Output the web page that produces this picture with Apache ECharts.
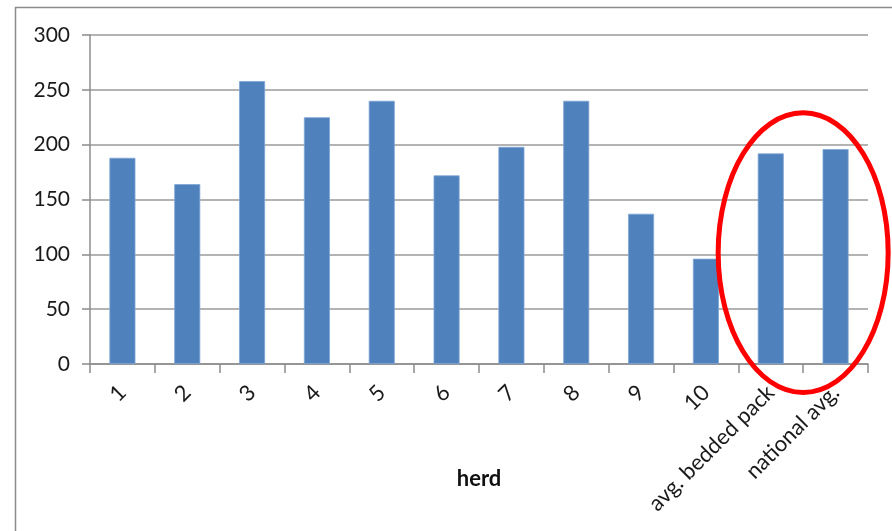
<!DOCTYPE html>
<html>
<head>
<meta charset="utf-8">
<script src="https://cdn.jsdelivr.net/npm/echarts@6/dist/echarts.min.js"></script>
<style>html,body{margin:0;padding:0;background:#fff;}#c{width:892px;height:531px;}</style>
</head>
<body>
<div id="c"></div>
<script>
const categories = ['1','2','3','4','5','6','7','8','9','10','avg. bedded pack','national avg.'];
const values = [188, 164, 258, 225, 240, 172, 198, 240, 137, 96, 192, 196];
const yTicks = [0, 50, 100, 150, 200, 250, 300];
const xAxisTitle = 'herd';

const FONT = 'Lato, "Open Sans", sans-serif';
const chart = echarts.init(document.getElementById('c'), null, {renderer: 'canvas'});
chart.setOption({
  animation: false,
  backgroundColor: '#ffffff',
  grid: {left: 90, right: 24, top: 35, bottom: 167, containLabel: false},
  xAxis: {
    type: 'category',
    data: categories,
    name: xAxisTitle,
    nameLocation: 'middle',
    nameGap: 104,
    nameMoveOverlap: false,
    nameTextStyle: {fontFamily: FONT, fontSize: 22, fontWeight: 'bold', color: '#111', verticalAlign: 'top'},
    axisLine: {lineStyle: {color: '#8c8c8c', width: 1.5}},
    axisTick: {show: true, length: 9, lineStyle: {color: '#8c8c8c', width: 1.5}},
    axisLabel: {rotate: 45, fontFamily: FONT, fontSize: 22, color: '#1a1a1a', margin: 25, interval: 0}
  },
  yAxis: {
    type: 'value',
    min: yTicks[0],
    max: yTicks[yTicks.length - 1],
    interval: 50,
    axisLine: {show: true, lineStyle: {color: '#8c8c8c', width: 1.5}},
    axisTick: {show: true, length: 8, lineStyle: {color: '#8c8c8c', width: 1.5}},
    axisLabel: {fontFamily: FONT, fontSize: 21, color: '#1a1a1a', margin: 20},
    splitLine: {show: true, lineStyle: {color: '#9a9a9a', width: 1.5}}
  },
  series: [{
    type: 'bar',
    data: values,
    barWidth: 26,
    itemStyle: {color: '#4f81bd', borderColor: '#7fa6d6', borderWidth: 0.8}
  }]
});

// annotation: outer border and red ellipse around last two bars
const c1 = chart.convertToPixel({xAxisIndex: 0, yAxisIndex: 0}, [categories[10], 0]);
const c2 = chart.convertToPixel({xAxisIndex: 0, yAxisIndex: 0}, [categories[11], 0]);
const yTop = chart.convertToPixel({yAxisIndex: 0}, 229);
const yBot = chart.convertToPixel({yAxisIndex: 0}, -26);
chart.setOption({
  graphic: [
    {type: 'rect', shape: {x: 15.5, y: 7.5, width: 900, height: 600}, style: {fill: 'none', stroke: '#8c8c8c', lineWidth: 1.5}, silent: true},
    {type: 'ellipse', shape: {cx: (c1[0] + c2[0]) / 2, cy: (yTop + yBot) / 2, rx: 85, ry: (yBot - yTop) / 2}, style: {fill: 'none', stroke: '#ff0000', lineWidth: 5}, z: 100, silent: true}
  ]
});
</script>
</body>
</html>
